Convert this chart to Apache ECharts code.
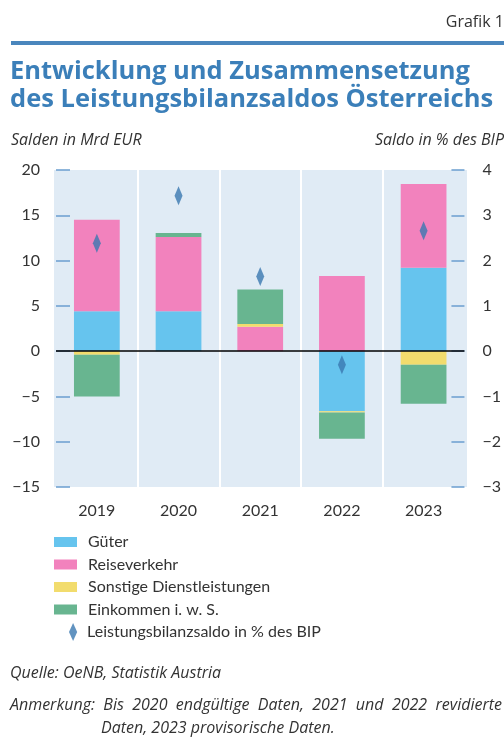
<!DOCTYPE html>
<html>
<head>
<meta charset="utf-8">
<script src="https://cdn.jsdelivr.net/npm/echarts@6/dist/echarts.min.js"></script>
<style>
  html, body { margin: 0; padding: 0; background: #fff; }
  #main { width: 504px; height: 743px; }
</style>
</head>
<body>
<div id="main"></div>
<script>
// Daten
const jahre = ['2019', '2020', '2021', '2022', '2023'];
const gueter = [4.4, 4.4, 0, -6.65, 9.2];
const reiseverkehr = [10.1, 8.2, 2.7, 8.3, 9.25];
const sonstige = [-0.4, 0, 0.3, -0.12, -1.5];
const einkommen = [-4.6, 0.45, 3.8, -2.9, -4.3];
const saldoBip = [2.38, 3.43, 1.65, -0.3, 2.66];

const fontFam = 'Lato, "Open Sans", sans-serif';
const noteFont = 'italic 16px "Open Sans"';
const minus = v => String(v).replace('-', '\u2212');

// Anmerkung im Blocksatz: Wörter über die ganze Breite verteilen
const ctx = document.createElement('canvas').getContext('2d');
ctx.font = noteFont;
const justify = (line, x0, x1, y) => {
    const words = line.split(' ');
    const widths = words.map(w => ctx.measureText(w).width);
    const gap = (x1 - x0 - widths.reduce((a, b) => a + b, 0)) / (words.length - 1);
    let x = x0;
    return words.map((w, i) => {
        const el = {type: 'text', x: x, y: y,
            style: {text: w, font: noteFont, fill: '#333', verticalAlign: 'middle'}};
        x += widths[i] + gap;
        return el;
    });
};
const plainText = (text, x, y, font, align) => ({
    type: 'text', x: x, y: y,
    style: {text: text, font: font, fill: '#333', verticalAlign: 'middle', align: align || 'left'}
});

const chart = echarts.init(document.getElementById('main'));

const barSeries = (name, data, color) => ({
    name: name,
    type: 'bar',
    stack: 'saldo',
    barWidth: '56%',
    data: data,
    itemStyle: {color: color},
    emphasis: {disabled: true}
});

const option = {
    animation: false,
    textStyle: {fontFamily: fontFam},
    title: [
        {text: 'Entwicklung und Zusammensetzung\ndes Leistungsbilanzsaldos Österreichs', left: 10, top: 58, padding: 0,
            textStyle: {fontFamily: '"Open Sans"', fontSize: 25.5, fontWeight: 'bold', color: '#3b7fb9', lineHeight: 28}}
    ],
    graphic: [
        {type: 'rect', shape: {x: 11, y: 41, width: 493, height: 4}, style: {fill: '#4a86bd'}},
        // Hintergrund etwas breiter als die Kategorienfläche
        {type: 'rect', z: -10, shape: {x: 54, y: 170, width: 413, height: 317}, style: {fill: '#e0ebf5'}},
        plainText('Grafik 1', 504, 22, '16px "Open Sans"', 'right'),
        plainText('Salden in Mrd EUR', 11, 140, noteFont),
        plainText('Saldo in % des BIP', 504, 140, noteFont, 'right'),
        plainText('Quelle: OeNB, Statistik Austria', 10, 673, noteFont)
    ].concat(
        justify('Anmerkung: Bis 2020 endgültige Daten, 2021 und 2022 revidierte', 10, 502, 705),
        [plainText('Daten, 2023 provisorische Daten.', 101, 728, noteFont)]
    ),
    legend: [
        {
            data: ['Güter', 'Reiseverkehr', 'Sonstige Dienstleistungen', 'Einkommen i. w. S.'],
            orient: 'vertical', left: 54, top: 534, padding: 0,
            itemWidth: 23, itemHeight: 10, itemGap: 6.5,
            icon: 'rect',
            selectedMode: false,
            textStyle: {fontSize: 16, color: '#333', lineHeight: 16, padding: [0, 0, 0, 6]}
        },
        {
            data: ['Leistungsbilanzsaldo in % des BIP'],
            orient: 'vertical', left: 69, top: 623, padding: 0,
            itemWidth: 10, itemHeight: 18,
            icon: 'path://M5,0L10,11L5,22L0,11Z',
            selectedMode: false,
            textStyle: {fontSize: 16, color: '#333', lineHeight: 18, padding: [0, 0, 0, 4]}
        }
    ],
    grid: {
        left: 56, right: 39, top: 170, bottom: 256,
        show: false
    },
    xAxis: {
        type: 'category',
        data: jahre,
        axisLine: {show: false},
        axisTick: {show: false},
        axisLabel: {fontSize: 16, color: '#333', margin: 16},
        splitLine: {show: true, showMinLine: false, showMaxLine: false, lineStyle: {color: '#ffffff', width: 2}}
    },
    yAxis: [
        {
            type: 'value', min: -15, max: 20, interval: 5,
            axisLine: {show: false},
            axisTick: {show: true, inside: true, length: 14, lineStyle: {color: '#6b9fcf', width: 1.5}},
            axisLabel: {fontSize: 16, color: '#333', margin: 16, formatter: minus},
            splitLine: {show: false}
        },
        {
            type: 'value', min: -3, max: 4, interval: 1,
            axisLine: {show: false},
            axisTick: {show: true, inside: true, length: 13, lineStyle: {color: '#6b9fcf', width: 1.5}},
            axisLabel: {fontSize: 16, color: '#333', margin: 18, formatter: minus},
            splitLine: {show: false}
        }
    ],
    series: [
        Object.assign(barSeries('Güter', gueter, '#66c4ee'), {
            markLine: {
                silent: true,
                symbol: ['none', 'none'],
                label: {show: false},
                lineStyle: {color: '#000', width: 1.5, type: 'solid'},
                data: [{yAxis: 0}],
                z: 10
            }
        }),
        barSeries('Reiseverkehr', reiseverkehr, '#f282bd'),
        barSeries('Sonstige Dienstleistungen', sonstige, '#f2dc6d'),
        barSeries('Einkommen i. w. S.', einkommen, '#68b590'),
        {
            name: 'Leistungsbilanzsaldo in % des BIP',
            type: 'scatter',
            yAxisIndex: 1,
            data: saldoBip,
            symbol: 'diamond',
            symbolSize: [8, 19],
            itemStyle: {color: '#3a78b0'},
            z: 5
        }
    ]
};

chart.setOption(option);
</script>
</body>
</html>
